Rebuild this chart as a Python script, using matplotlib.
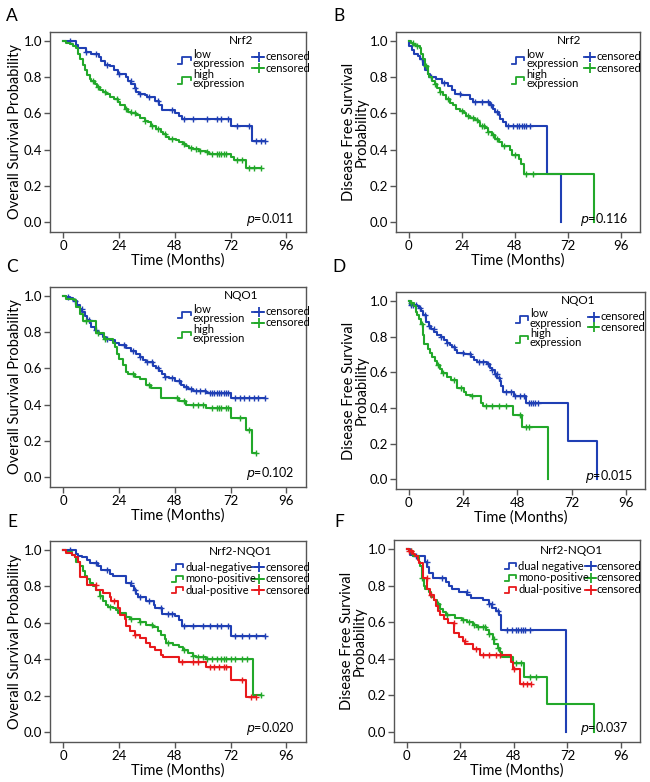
import matplotlib
matplotlib.use("Agg")
import matplotlib.pyplot as plt

plt.rcParams['font.family'] = ['Lato', 'DejaVu Sans']

BLUE = '#1f3fb4'
GREEN = '#22a82a'
RED = '#e8191c'
EDGE = '#555555'

# ---- A: Nrf2, overall survival ----
a_low_t = [0, 5.4, 6.4, 9.7, 12, 15.4, 16.4, 17.9, 20, 22, 23.6, 27, 28, 29.3, 30.7, 31.5, 32.6, 35, 36, 39.7, 41.4, 42.4, 48.3, 50, 51, 72.4, 81.4]
a_low_s = [1.0, 0.98, 0.96, 0.94, 0.93, 0.91, 0.89, 0.87, 0.86, 0.84, 0.82, 0.80, 0.78, 0.76, 0.74, 0.72, 0.71, 0.70, 0.69, 0.67, 0.645, 0.62, 0.60, 0.585, 0.57, 0.53, 0.45]
a_low_end = 87
a_low_cens = [3, 10, 14, 19, 24, 29, 31, 33, 37, 41, 47, 52, 56, 62, 66, 68, 71, 75, 80, 83, 85, 87]
a_high_t = [0, 1.4, 2.9, 4.3, 5.4, 6.4, 7.1, 8.3, 9.3, 10.3, 11.4, 12, 13.6, 14.7, 15.7, 17, 18.6, 20, 22, 23.6, 24.3, 26.4, 27.9, 29.3, 31.4, 32.9, 35, 36.4, 37.9, 40, 42.1, 43.1, 44.3, 45.7, 48.6, 50, 51.4, 52.9, 54, 55.7, 58.6, 61.4, 62.9, 72.4, 73.6, 78.6]
a_high_s = [1.0, 0.99, 0.985, 0.97, 0.96, 0.93, 0.90, 0.87, 0.84, 0.81, 0.79, 0.78, 0.76, 0.745, 0.73, 0.72, 0.71, 0.69, 0.68, 0.665, 0.645, 0.627, 0.608, 0.60, 0.59, 0.575, 0.56, 0.55, 0.53, 0.515, 0.50, 0.485, 0.47, 0.46, 0.455, 0.44, 0.43, 0.42, 0.41, 0.403, 0.395, 0.385, 0.377, 0.36, 0.345, 0.30]
a_high_end = 85
a_high_cens = [13, 15, 18, 23, 27, 29, 31, 35, 38, 41, 44, 47, 52, 55, 57, 59, 62, 64, 66, 67, 68, 69, 70, 75, 77, 80, 82, 85]

# ---- B: Nrf2, disease free survival ----
b_low_t = [0, 0.3, 1.5, 2.6, 4.1, 5.2, 6.4, 7.6, 8.7, 9.7, 12.5, 15.2, 17.8, 19.7, 20.8, 23.8, 27.6, 29.2, 36.8, 38, 39, 40.6, 41.3, 42.8, 43.9, 62.3, 68.7]
b_low_s = [1.0, 0.97, 0.95, 0.93, 0.92, 0.90, 0.87, 0.84, 0.82, 0.80, 0.79, 0.768, 0.75, 0.73, 0.71, 0.70, 0.68, 0.664, 0.645, 0.625, 0.61, 0.59, 0.57, 0.55, 0.53, 0.265, 0.0]
b_low_end = 68.7
b_low_cens = [6, 10, 16, 23, 30, 33, 36, 37, 40, 45, 47, 49, 50, 51, 52, 53, 55]
b_high_t = [0, 1.1, 2.1, 3.3, 5.2, 5.7, 6.7, 7.6, 8.7, 9.4, 10.6, 11.7, 12.8, 14, 15.5, 16.7, 18.5, 20, 21.6, 23.1, 24.9, 26.1, 27.6, 29.9, 31.4, 32.2, 34.5, 36, 37.5, 39, 40.6, 42.1, 45.9, 46.6, 49.7, 50.9, 52, 83.9]
b_high_s = [1.0, 0.99, 0.98, 0.975, 0.96, 0.93, 0.90, 0.86, 0.82, 0.80, 0.78, 0.76, 0.74, 0.72, 0.70, 0.68, 0.66, 0.645, 0.625, 0.615, 0.60, 0.585, 0.575, 0.565, 0.55, 0.53, 0.52, 0.50, 0.48, 0.46, 0.44, 0.42, 0.40, 0.368, 0.35, 0.323, 0.268, 0.0]
b_high_end = 83.9
b_high_cens = [2, 4, 8, 12, 14, 18, 24, 27, 29, 31, 33, 34, 36, 38, 40, 43, 48, 53, 56]

# ---- C: NQO1, overall survival ----
c_low_t = [0, 1.4, 2.9, 4.3, 5, 6, 7.1, 8.2, 9.3, 10.3, 11.4, 12.1, 13.6, 14.3, 15.4, 17.1, 18.6, 20, 22.1, 24, 27.1, 29.3, 31.4, 32.9, 34.3, 35.7, 38.6, 40, 41.1, 42.4, 43.6, 45.7, 48.3, 50.7, 52.1, 53.6, 55.7, 61.4, 72.4]
c_low_s = [1.0, 0.995, 0.99, 0.98, 0.97, 0.95, 0.93, 0.91, 0.89, 0.87, 0.85, 0.83, 0.815, 0.80, 0.79, 0.775, 0.765, 0.755, 0.74, 0.727, 0.715, 0.695, 0.68, 0.665, 0.645, 0.633, 0.615, 0.60, 0.585, 0.57, 0.555, 0.545, 0.53, 0.51, 0.50, 0.485, 0.475, 0.462, 0.437]
c_low_end = 87
c_low_cens = [2, 5, 8, 11, 14, 19, 26, 30, 33, 36, 38, 41, 44, 47, 50, 53, 55, 57, 59, 61, 63, 64, 65, 66, 67, 68, 69, 70, 71, 74, 76, 78, 80, 82, 84, 87]
c_high_t = [0, 1.1, 4.6, 5.7, 7.1, 8.3, 14.3, 17.4, 21.4, 22.1, 23.1, 24, 25.7, 26.9, 27.9, 30.7, 32.9, 35.7, 37.9, 42.1, 49.7, 52.9, 61.4, 72.4, 78.6, 81.4]
c_high_s = [1.0, 0.985, 0.98, 0.94, 0.90, 0.86, 0.796, 0.76, 0.74, 0.72, 0.68, 0.65, 0.62, 0.58, 0.57, 0.554, 0.54, 0.51, 0.494, 0.438, 0.418, 0.40, 0.383, 0.327, 0.26, 0.132]
c_high_end = 82.9
c_high_cens = [10, 15, 18, 30, 37, 49, 52, 56, 58, 60, 64, 66, 67, 68, 70, 71, 76, 80, 82.9]

# ---- D: NQO1, disease free survival ----
d_low_t = [0, 0.4, 3.7, 4.4, 5.2, 6.2, 7.4, 8.9, 9.9, 11.1, 12.6, 14, 15.5, 17, 18.2, 19.2, 20.2, 21.4, 24.4, 27.3, 28.8, 30.3, 34.7, 35.9, 36.9, 38, 39.1, 40.3, 40.9, 41.8, 46.5, 51.7, 70.6, 83.1]
d_low_s = [1.0, 0.975, 0.97, 0.96, 0.945, 0.92, 0.88, 0.86, 0.845, 0.825, 0.81, 0.795, 0.78, 0.765, 0.75, 0.74, 0.725, 0.71, 0.70, 0.685, 0.67, 0.66, 0.645, 0.625, 0.61, 0.59, 0.57, 0.55, 0.525, 0.487, 0.465, 0.43, 0.214, 0.0]
d_low_end = 83.1
d_low_cens = [1, 2, 3, 5, 7, 9, 11, 14, 17, 20, 24, 27, 31, 33, 35, 37, 38, 39, 40, 43, 45, 47, 49, 51, 53, 54, 55, 56, 57]
d_high_t = [0, 1, 2.2, 3, 3.7, 4.4, 5.5, 6.4, 6.8, 8.4, 9.3, 10.3, 11.5, 12.6, 13.7, 14.8, 16.7, 18.5, 21.1, 21.5, 24.4, 25.5, 27.3, 31.8, 32.9, 46.2, 50.2, 61.7]
d_high_s = [1.0, 0.99, 0.97, 0.94, 0.92, 0.90, 0.87, 0.81, 0.761, 0.73, 0.707, 0.685, 0.665, 0.641, 0.62, 0.595, 0.575, 0.555, 0.535, 0.51, 0.49, 0.47, 0.464, 0.43, 0.41, 0.36, 0.29, 0.0]
d_high_end = 61.7
d_high_cens = [1, 6, 13, 15, 20, 23, 28, 34, 37, 40, 43, 49, 52, 53]

# ---- E: Nrf2-NQO1, overall survival ----
e_neg_t = [0, 5.4, 6.4, 7.9, 10.3, 11.4, 15, 16.4, 20, 21.4, 27.1, 29.3, 30.3, 31.4, 32.1, 35.7, 38.9, 39.7, 42.4, 48.3, 50, 51.1, 72.4]
e_neg_s = [1.0, 0.98, 0.97, 0.96, 0.945, 0.93, 0.91, 0.889, 0.87, 0.855, 0.82, 0.80, 0.78, 0.76, 0.742, 0.72, 0.70, 0.68, 0.65, 0.635, 0.615, 0.582, 0.53]
e_neg_end = 87
e_neg_cens = [3, 14, 19, 29, 31, 33, 37, 42, 45, 47, 52, 56, 60, 63, 66, 68, 71, 74, 77, 80, 83, 87]
e_mono_t = [0, 1.4, 3.6, 5, 5.7, 7.1, 8.3, 9.3, 10.3, 11.4, 12.6, 14.3, 15.7, 17.1, 18.6, 19.3, 21.4, 22.9, 23.6, 27.1, 28.6, 32.9, 35.7, 38.6, 40.7, 42.1, 43.6, 44.3, 47.1, 50, 51.4, 53.6, 55.7, 57.1, 61.4, 81.7]
e_mono_s = [1.0, 0.99, 0.975, 0.96, 0.935, 0.91, 0.885, 0.86, 0.84, 0.82, 0.80, 0.78, 0.75, 0.72, 0.70, 0.689, 0.68, 0.67, 0.655, 0.63, 0.622, 0.605, 0.59, 0.575, 0.555, 0.535, 0.51, 0.49, 0.48, 0.465, 0.45, 0.435, 0.42, 0.415, 0.401, 0.203]
e_mono_end = 85
e_mono_cens = [16, 20, 29, 33, 38, 45, 52, 56, 58, 60, 62, 64, 66, 68, 69, 70, 72, 74, 77, 79, 85]
e_dual_t = [0, 1.4, 3.6, 5, 6.4, 7.4, 10.3, 14.3, 17.1, 20, 20.7, 23.6, 24.6, 26.4, 27.1, 28.9, 30.7, 32.9, 35.7, 37.4, 39.7, 42.1, 43.1, 49.7, 61.4, 72.4, 78.6]
e_dual_s = [1.0, 0.985, 0.975, 0.96, 0.935, 0.85, 0.807, 0.78, 0.762, 0.74, 0.72, 0.68, 0.645, 0.62, 0.58, 0.555, 0.535, 0.515, 0.49, 0.465, 0.45, 0.422, 0.41, 0.383, 0.357, 0.284, 0.191]
e_dual_end = 83.1
e_dual_cens = [14, 22, 31, 51, 56, 58, 63, 65, 67, 69, 70, 77, 81, 83]

# ---- F: Nrf2-NQO1, disease free survival ----
f_neg_t = [0, 1.5, 2.6, 8, 9.1, 10.1, 11.6, 17.7, 18.9, 20.4, 23.4, 27.2, 29, 34, 37, 38.2, 40, 41.3, 42.3, 71.5]
f_neg_s = [1.0, 0.97, 0.96, 0.93, 0.90, 0.87, 0.84, 0.82, 0.80, 0.78, 0.765, 0.75, 0.73, 0.72, 0.70, 0.68, 0.66, 0.64, 0.56, 0.0]
f_neg_end = 71.5
f_neg_cens = [4, 9, 16, 27, 37, 38, 41, 45, 47, 49, 50, 51, 52, 53, 55]
f_mono_t = [0, 1.1, 2.3, 3, 4.5, 5.6, 6, 6.8, 7.6, 8.3, 9.8, 11, 12.1, 13.6, 15.1, 16.2, 17.7, 21.6, 24.9, 26.8, 29.5, 31.7, 35.5, 37, 38.5, 39.3, 40.8, 41.9, 42.8, 47.6, 52.5, 62.7, 83.9]
f_mono_s = [1.0, 0.99, 0.98, 0.965, 0.96, 0.93, 0.91, 0.84, 0.80, 0.78, 0.765, 0.74, 0.72, 0.70, 0.675, 0.655, 0.637, 0.624, 0.615, 0.60, 0.585, 0.575, 0.555, 0.535, 0.51, 0.48, 0.46, 0.44, 0.411, 0.376, 0.303, 0.152, 0.0]
f_mono_end = 83.9
f_mono_cens = [2, 7, 14, 18, 25, 28, 30, 32, 34, 35, 37, 39, 41, 49, 51, 55, 58]
f_dual_t = [0, 0.8, 2.6, 3.8, 5, 5.6, 7.1, 9.1, 10.6, 12.1, 13.2, 14.1, 15.1, 16.6, 18.6, 21.2, 23.4, 25.2, 26.2, 29.5, 32.8, 46.9, 47.4, 50.6, 50.9]
f_dual_s = [1.0, 0.99, 0.975, 0.96, 0.94, 0.923, 0.844, 0.78, 0.75, 0.72, 0.69, 0.66, 0.64, 0.62, 0.596, 0.541, 0.52, 0.50, 0.48, 0.455, 0.422, 0.385, 0.345, 0.30, 0.26]
f_dual_end = 55.5
f_dual_cens = [1, 2, 9, 11, 21, 26, 31, 34, 37, 40, 42, 48, 52, 54, 55.5]

os_label = 'Overall Survival Probability'
dfs_label = 'Disease Free Survival\nProbability'
two_groups = ['low\nexpression', 'high\nexpression']
three_groups_e = ['dual-negative', 'mono-positive', 'dual-positive']
three_groups_f = ['dual negative', 'mono-positive', 'dual-positive']

# legend anchors (axes fraction): title x, step handle x, censor handle x
panels = [
    dict(letter='A', letter_xy=(12, 16), rect=(50, 306, 32, 232), ylabel=os_label, title='Nrf2', p='0.011',
         names=two_groups, colors=[BLUE, GREEN], leg=(0.745, 0.50, 0.79),
         curves=[(a_low_t, a_low_s, a_low_end, a_low_cens), (a_high_t, a_high_s, a_high_end, a_high_cens)]),
    dict(letter='B', letter_xy=(339, 16), rect=(396, 640, 32, 232), ylabel=dfs_label, title='Nrf2', p='0.116',
         names=two_groups, colors=[BLUE, GREEN], leg=(0.71, 0.475, 0.77),
         curves=[(b_low_t, b_low_s, b_low_end, b_low_cens), (b_high_t, b_high_s, b_high_end, b_high_cens)]),
    dict(letter='C', letter_xy=(12, 267), rect=(50, 306, 287, 487), ylabel=os_label, title='NQO1', p='0.102',
         names=two_groups, colors=[BLUE, GREEN], leg=(0.745, 0.50, 0.79),
         curves=[(c_low_t, c_low_s, c_low_end, c_low_cens), (c_high_t, c_high_s, c_high_end, c_high_cens)]),
    dict(letter='D', letter_xy=(339, 267), rect=(396, 645, 292, 489), ylabel=dfs_label, title='NQO1', p='0.015',
         names=two_groups, colors=[BLUE, GREEN], leg=(0.73, 0.48, 0.77),
         curves=[(d_low_t, d_low_s, d_low_end, d_low_cens), (d_high_t, d_high_s, d_high_end, d_high_cens)]),
    dict(letter='E', letter_xy=(12, 522), rect=(50, 306, 541, 742), ylabel=os_label, title='Nrf2-NQO1', p='0.020',
         names=three_groups_e, colors=[BLUE, GREEN, RED], leg=(0.745, 0.475, 0.79),
         curves=[(e_neg_t, e_neg_s, e_neg_end, e_neg_cens), (e_mono_t, e_mono_s, e_mono_end, e_mono_cens),
                 (e_dual_t, e_dual_s, e_dual_end, e_dual_cens)]),
    dict(letter='F', letter_xy=(339, 522), rect=(394, 640, 540, 742), ylabel=dfs_label, title='Nrf2-NQO1', p='0.037',
         names=three_groups_f, colors=[BLUE, GREEN, RED], leg=(0.72, 0.45, 0.775),
         curves=[(f_neg_t, f_neg_s, f_neg_end, f_neg_cens), (f_mono_t, f_mono_s, f_mono_end, f_mono_cens),
                 (f_dual_t, f_dual_s, f_dual_end, f_dual_cens)]),
]

W, H = 650, 782
fig = plt.figure(figsize=(W / 100, H / 100), dpi=100)


def surv_at(t, s, x):
    # value of the step function just at time x
    v = s[0]
    for ti, si in zip(t, s):
        if ti <= x:
            v = si
    return v


def legend_handle(ax, x0, y, color, w=0.05, h=0.035):
    xs = [x0, x0 + 0.35 * w, x0 + 0.35 * w, x0 + w, x0 + w]
    ys = [y - h / 2, y - h / 2, y + h / 2, y + h / 2, y]
    ax.plot(xs, ys, color=color, lw=1.3, transform=ax.transAxes, clip_on=False)


def censor_handle(ax, x0, y, color, w=0.045):
    ax.plot([x0, x0 + w], [y, y], color=color, lw=1.3, transform=ax.transAxes, clip_on=False)
    ax.plot([x0 + w * 0.55], [y], marker='+', ms=7, mew=1.3, color=color,
            transform=ax.transAxes, clip_on=False)


for pnl in panels:
    l, r, t, b = pnl['rect']
    ax = fig.add_axes([l / W, 1 - b / H, (r - l) / W, (b - t) / H])
    for (tt, ss, end, cens), col in zip(pnl['curves'], pnl['colors']):
        xs = list(tt) + [end]
        ys = list(ss) + [ss[-1]]
        ax.step(xs, ys, where='post', color=col, lw=1.5)
        cy = [surv_at(tt, ss, c) for c in cens]
        ax.plot(cens, cy, ls='none', marker='+', ms=4, mew=1.0, color=col)

    ax.set_xlim(-5.7, 104.5)
    ax.set_ylim(-0.055, 1.05)
    ax.set_xticks([0, 24, 48, 72, 96])
    ax.set_yticks([0, 0.2, 0.4, 0.6, 0.8, 1.0])
    ax.set_yticklabels(['0.0', '0.2', '0.4', '0.6', '0.8', '1.0'])
    ax.tick_params(length=4, width=1, color=EDGE, labelsize=9.5, pad=1.5)
    for sp in ax.spines.values():
        sp.set_color(EDGE)
        sp.set_linewidth(1)
    ax.set_xlabel('Time (Months)', fontsize=10.5, labelpad=1)
    ax.set_ylabel(pnl['ylabel'], fontsize=10.5, labelpad=1, linespacing=0.85)

    ax.text(0.955, 0.065, r'$\it{p}$=' + pnl['p'], transform=ax.transAxes,
            ha='right', va='center', fontsize=9)

    lx, ly = pnl['letter_xy']
    fig.text(lx / W, 1 - ly / H, pnl['letter'], fontsize=12.5, ha='center', va='center')

    tx, hx, cx = pnl['leg']
    if len(pnl['names']) == 2:
        ax.text(tx, 0.955, pnl['title'], transform=ax.transAxes,
                ha='center', va='center', fontsize=8.5)
        for i, (name, col) in enumerate(zip(pnl['names'], pnl['colors'])):
            yy = 0.86 - i * 0.10
            legend_handle(ax, hx, yy, col)
            ax.text(hx + 0.058, yy + 0.005, name, transform=ax.transAxes, ha='left', va='center',
                    fontsize=8, linespacing=0.8)
            cyy = 0.875 - i * 0.055
            censor_handle(ax, cx, cyy, col)
            ax.text(cx + 0.05, cyy, 'censored', transform=ax.transAxes, ha='left', va='center',
                    fontsize=8)
    else:
        ax.text(tx, 0.95, pnl['title'], transform=ax.transAxes,
                ha='center', va='center', fontsize=8.5)
        for i, (name, col) in enumerate(zip(pnl['names'], pnl['colors'])):
            yy = 0.87 - i * 0.058
            legend_handle(ax, hx, yy, col, w=0.045, h=0.03)
            ax.text(hx + 0.055, yy, name, transform=ax.transAxes, ha='left', va='center', fontsize=8)
            censor_handle(ax, cx, yy, col)
            ax.text(cx + 0.05, yy, 'censored', transform=ax.transAxes, ha='left', va='center',
                    fontsize=8)

fig.savefig('out.png', dpi=100)
